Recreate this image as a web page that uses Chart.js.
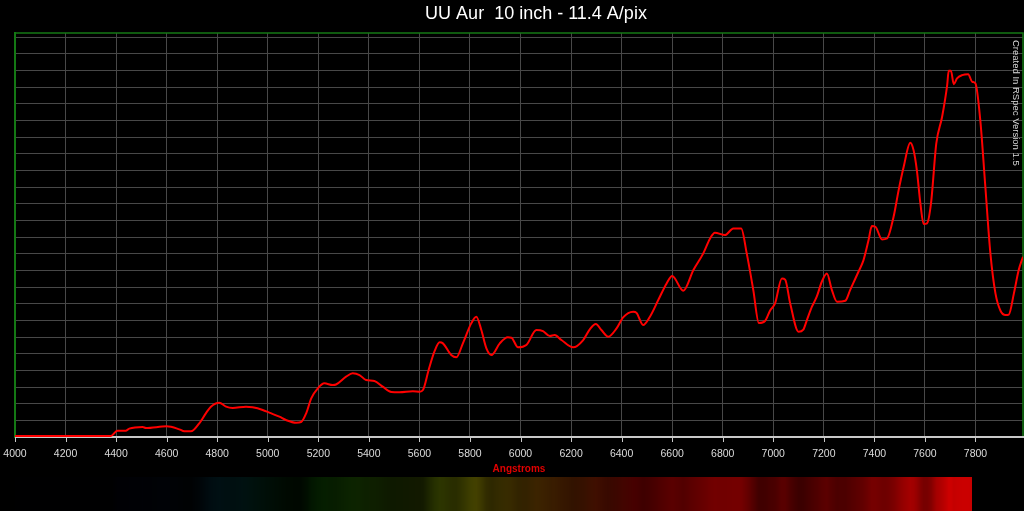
<!DOCTYPE html>
<html>
<head>
<meta charset="utf-8">
<script src="https://cdn.jsdelivr.net/npm/chart.js@4.4.0/dist/chart.umd.min.js"></script>
<style>
  html, body { margin: 0; padding: 0; background: #000; }
  #chartBox { width: 1024px; height: 511px; }
</style>
</head>
<body>
<div id="chartBox"><canvas id="specChart"></canvas></div>
<script>
// wavelength (Angstrom) and relative flux
const wavelengths = [
  4000, 4100, 4200, 4300, 4379, 4405, 4438, 4452, 4505, 4518, 4600, 4650, 4670, 4696,
  4729, 4755, 4775, 4808, 4835, 4861, 4914, 4940, 4980, 5006, 5046, 5072, 5112, 5132,
  5152, 5172, 5198, 5224, 5257, 5270, 5310, 5336, 5363, 5389, 5422, 5455, 5489, 5521,
  5574, 5601, 5614, 5637, 5660, 5680, 5693, 5726, 5746, 5772, 5805, 5825, 5845, 5865,
  5885, 5918, 5950, 5964, 5990, 6023, 6063, 6089, 6116, 6135, 6162, 6208, 6248, 6274,
  6298, 6320, 6347, 6380, 6406, 6446, 6459, 6485, 6512, 6545, 6578, 6600, 6644, 6684,
  6723, 6750, 6769, 6809, 6842, 6873, 6895, 6921, 6943, 6968, 6987, 7007, 7034, 7047,
  7067, 7100, 7119, 7133, 7153, 7172, 7192, 7212, 7232, 7252, 7285, 7304, 7337, 7357,
  7377, 7390, 7404, 7430, 7450, 7476, 7496, 7516, 7542, 7555, 7568, 7582, 7595, 7608,
  7624, 7645, 7668, 7688, 7694, 7703, 7714, 7727, 7747, 7771, 7787, 7800, 7819, 7839,
  7859, 7879, 7899, 7919, 7932, 7952, 7971, 7988
];
const flux = [
  0.06, 0.06, 0.06, 0.06, 0.06, 0.38, 0.38, 0.50, 0.60, 0.54, 0.64, 0.46, 0.34, 0.34,
  0.82, 1.42, 1.82, 2.06, 1.82, 1.74, 1.82, 1.78, 1.62, 1.46, 1.22, 1.02, 0.86, 0.90,
  1.42, 2.32, 2.92, 3.22, 3.12, 3.15, 3.62, 3.82, 3.72, 3.42, 3.36, 3.02, 2.70, 2.68,
  2.74, 2.72, 2.82, 4.05, 5.15, 5.68, 5.62, 4.92, 4.78, 5.62, 6.82, 7.22, 6.42, 5.32,
  4.92, 5.62, 5.98, 5.96, 5.38, 5.52, 6.42, 6.36, 6.06, 6.12, 5.82, 5.38, 5.82, 6.46,
  6.78, 6.42, 6.02, 6.52, 7.18, 7.52, 7.45, 6.72, 7.22, 8.22, 9.22, 9.66, 8.78, 10.02,
  11.02, 11.92, 12.26, 12.12, 12.52, 12.52, 11.02, 8.82, 6.84, 6.98, 7.58, 8.02, 9.52, 9.45,
  8.02, 6.32, 6.45, 7.02, 7.82, 8.42, 9.32, 9.82, 8.82, 8.12, 8.18, 8.82, 9.92, 10.62,
  11.82, 12.66, 12.62, 11.86, 11.92, 13.22, 14.82, 16.22, 17.66, 17.22, 16.02, 14.02, 12.78, 12.82,
  14.02, 17.62, 19.22, 21.12, 21.98, 21.98, 21.18, 21.52, 21.72, 21.78, 21.32, 21.22, 19.02, 15.02,
  11.02, 8.62, 7.58, 7.32, 7.35, 8.62, 10.02, 10.82
];
const xTicks = [4000, 4200, 4400, 4600, 4800, 5000, 5200, 5400, 5600, 5800,
  6000, 6200, 6400, 6600, 6800, 7000, 7200, 7400, 7600, 7800];
const yTicks = [0, 1, 2, 3, 4, 5, 6, 7, 8, 9, 10, 11, 12, 13, 14, 15, 16, 17, 18, 19, 20, 21, 22, 23, 24];
const barEndWave = 7785;
const titleText = "UU Aur  10 inch - 11.4 A/pix";

const points = wavelengths.map((w, i) => ({ x: w, y: flux[i] }));
const maxFlux = Math.max(...flux);

// rough visible colour for a wavelength in Angstrom
function waveColor(a) {
  let w = a / 10, r = 0, g = 0, b = 0;
  if (w < 440) { r = (440 - w) / 60; b = 1; }
  else if (w < 490) { g = (w - 440) / 50; b = 1; }
  else if (w < 510) { g = 1; b = (510 - w) / 20; }
  else if (w < 580) { r = (w - 510) / 70; g = 1; }
  else if (w < 645) { r = 1; g = (645 - w) / 65; }
  else { r = 1; }
  return [r, g, b];
}

function fluxAt(a) {
  if (a <= wavelengths[0]) return flux[0];
  for (let i = 1; i < wavelengths.length; i++) {
    if (a <= wavelengths[i]) {
      let t = (a - wavelengths[i - 1]) / (wavelengths[i] - wavelengths[i - 1]);
      return flux[i - 1] + t * (flux[i] - flux[i - 1]);
    }
  }
  return flux[flux.length - 1];
}

const rspecDecor = {
  id: "rspecDecor",
  beforeDraw(chart) {
    const ctx = chart.ctx;
    ctx.save();
    ctx.fillStyle = "#000";
    ctx.fillRect(0, 0, chart.width, chart.height);
    ctx.restore();
  },
  beforeDatasetsDraw(chart) {
    const ctx = chart.ctx, a = chart.chartArea, xs = chart.scales.x;
    ctx.save();
    ctx.strokeStyle = "rgb(20,120,20)";
    ctx.lineWidth = 1.5;
    ctx.beginPath();
    ctx.moveTo(a.left, a.top);
    ctx.lineTo(a.right, a.top);
    ctx.lineTo(a.right, a.bottom - 1);
    ctx.stroke();
    // short tick marks under the axis
    ctx.strokeStyle = "#c8c8c8";
    ctx.lineWidth = 1;
    ctx.beginPath();
    xTicks.forEach(v => {
      let px = Math.round(xs.getPixelForValue(v)) + 0.5;
      ctx.moveTo(px, a.bottom);
      ctx.lineTo(px, a.bottom + 5);
    });
    ctx.stroke();
    ctx.restore();
  },
  afterDraw(chart) {
    const ctx = chart.ctx, a = chart.chartArea, xs = chart.scales.x;
    ctx.save();
    // title, drawn by hand so it sits where RSpec put it
    ctx.fillStyle = "#ffffff";
    ctx.font = "18px 'Liberation Sans', Arial, sans-serif";
    ctx.textAlign = "center";
    ctx.textBaseline = "middle";
    ctx.fillText(titleText, 536, 14);

    // spectrum strip under the axis
    const endPx = Math.round(xs.getPixelForValue(barEndWave));
    const top = chart.height - 34;
    for (let px = 0; px < endPx; px++) {
      let w = xs.getValueForPixel(px + 0.5);
      if (w < 4000) continue;
      let c = waveColor(w);
      let k = 0.8 * 255 * fluxAt(w) / maxFlux;
      ctx.fillStyle = "rgb(" + Math.round(c[0] * k) + "," + Math.round(c[1] * k) + "," + Math.round(c[2] * k) + ")";
      ctx.fillRect(px, top, 1, 34);
    }

    // vertical credit text
    ctx.translate(a.right - 7, a.top + 7);
    ctx.rotate(Math.PI / 2);
    ctx.fillStyle = "#d8d8d8";
    ctx.font = "9.5px 'Liberation Sans', Arial, sans-serif";
    ctx.textAlign = "left";
    ctx.textBaseline = "middle";
    ctx.fillText("Created In RSpec Version 1.5", 0, 0);
    ctx.restore();
  }
};

new Chart(document.getElementById("specChart"), {
  type: "line",
  data: {
    datasets: [{
      label: "UU Aur",
      data: points,
      borderColor: "#ff0000",
      borderWidth: 2,
      pointRadius: 0,
      cubicInterpolationMode: "monotone",
      fill: false
    }]
  },
  options: {
    responsive: true,
    maintainAspectRatio: false,
    animation: false,
    layout: { padding: { left: 15, right: 1, top: 33, bottom: 35.4 } },
    plugins: {
      legend: { display: false },
      tooltip: { enabled: false },
      title: { display: false }
    },
    scales: {
      x: {
        type: "linear",
        min: 4000,
        max: 7988,
        afterBuildTicks: (scale) => { scale.ticks = xTicks.map(v => ({ value: v })); },
        ticks: {
          color: "#dcdcdc",
          font: { family: "'Liberation Sans', Arial, sans-serif", size: 10.5 },
          padding: 3,
          maxRotation: 0,
          autoSkip: false,
          callback: (v) => String(v)
        },
        grid: { color: "rgb(72,72,72)", tickColor: "rgba(0,0,0,0)", tickLength: 8 },
        border: { color: "#c8c8c8", width: 2 },
        title: {
          display: true,
          text: "Angstroms",
          color: "#e00000",
          font: { family: "'Liberation Sans', Arial, sans-serif", size: 10, weight: "bold" },
          padding: { top: 0, bottom: 0 }
        }
      },
      y: {
        min: 0,
        max: 24.25,
        afterBuildTicks: (scale) => { scale.ticks = yTicks.map(v => ({ value: v })); },
        ticks: { display: false },
        grid: { color: "rgb(72,72,72)", drawTicks: false },
        border: { color: "rgb(20,120,20)", width: 2 }
      }
    }
  },
  plugins: [rspecDecor]
});
</script>
</body>
</html>
